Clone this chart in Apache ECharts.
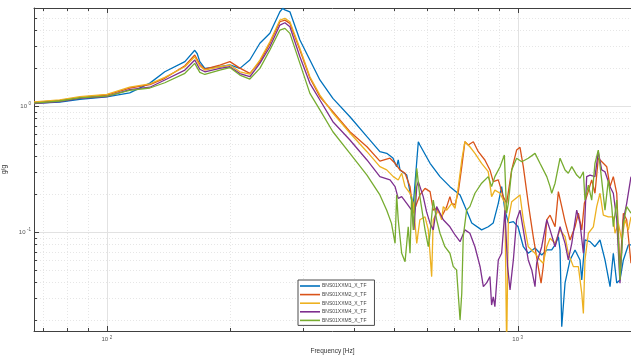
<!DOCTYPE html>
<html>
<head>
<meta charset="utf-8">
<title>Transfer functions</title>
<script src="https://cdn.jsdelivr.net/npm/echarts@6/dist/echarts.min.js"></script>
<style>
  html, body { margin: 0; padding: 0; background: #fff; }
  #chart { width: 631px; height: 356px; }
</style>
</head>
<body>
<div id="chart"></div>
<script>
var seriesNames = ['BNS01XXM1_X_TF', 'BNS01XXM2_X_TF', 'BNS01XXM3_X_TF', 'BNS01XXM4_X_TF', 'BNS01XXM5_X_TF'];
var seriesColors = ['#0072BD', '#D95319', '#EDB120', '#7E2F8E', '#77AC30'];

// [frequency Hz, g/g]
var m1 = [[66.5,1.05],[76.8,1.076],[86,1.13],[100,1.18],[113.7,1.27],[127.3,1.52],[138.4,1.87],[154.9,2.25],[163.7,2.77],[166,2.6],[168.4,2.25],[173.2,1.99],[188.4,2.05],[199.3,2.12],[210.8,1.99],[222.9,2.32],[235.8,3.15],[249.4,3.78],[263.8,5.6],[268,5.96],[271.3,5.8],[274,5.96],[279,5.6],[295.1,3.34],[312.1,2.32],[330.1,1.61],[355,1.15],[390.6,0.822],[429.7,0.571],[462,0.434],[480,0.421],[497,0.387],[507.5,0.33],[512,0.373],[517,0.311],[537,0.283],[552,0.179],[557,0.163],[573,0.521],[578,0.49],[612,0.351],[647,0.275],[684,0.229],[724,0.197],[744,0.159],[773,0.118],[817,0.104],[848,0.11],[856,0.107],[872,0.118],[897,0.169],[914,0.229],[931,0.149],[949,0.118],[976,0.121],[1002,0.11],[1032,0.0764],[1061,0.0678],[1102,0.0746],[1144,0.0657],[1177,0.072],[1210,0.072],[1233,0.0789],[1256,0.0918],[1268,0.072],[1280,0.0177],[1304,0.0394],[1341,0.06],[1379,0.072],[1418,0.06],[1432,0.0416],[1458,0.0864],[1500,0.0838],[1542,0.0764],[1586,0.0864],[1631,0.06],[1678,0.0368],[1709,0.0678],[1742,0.0394],[1774,0.0416],[1808,0.06],[1859,0.0789],[1887,0.0789]];
var m2 = [[66.5,1.07],[76.8,1.11],[86,1.17],[100,1.223],[113.7,1.39],[127.3,1.48],[138.4,1.66],[154.9,2.09],[163.7,2.54],[168.4,2.14],[173.2,1.96],[188.4,2.115],[199.3,2.25],[210.8,2.0],[222.9,1.818],[235.8,2.247],[249.4,3.145],[263.8,4.667],[271.3,4.81],[279,4.53],[295.1,2.78],[312.1,1.668],[330.1,1.185],[355,0.901],[390.6,0.625],[429.7,0.475],[462,0.365],[489,0.385],[503,0.351],[517,0.311],[532,0.293],[547,0.229],[557,0.141],[568,0.169],[578,0.197],[595,0.222],[612,0.209],[623,0.149],[635,0.154],[653,0.132],[672,0.159],[684,0.191],[691,0.169],[704,0.164],[717,0.209],[731,0.33],[744,0.521],[758,0.49],[780,0.521],[802,0.434],[832,0.373],[856,0.311],[872,0.251],[897,0.259],[922,0.191],[940,0.169],[967,0.311],[994,0.447],[1013,0.47],[1032,0.33],[1061,0.169],[1091,0.0918],[1122,0.0531],[1140,0.0392],[1154,0.0531],[1177,0.125],[1199,0.136],[1233,0.11],[1256,0.209],[1280,0.159],[1304,0.121],[1341,0.0864],[1379,0.11],[1405,0.141],[1432,0.104],[1453,0.169],[1472,0.191],[1514,0.259],[1542,0.203],[1571,0.385],[1616,0.351],[1647,0.33],[1678,0.229],[1709,0.275],[1742,0.203],[1774,0.05],[1808,0.141],[1842,0.125],[1887,0.0565]];
var m3 = [[66.5,1.08],[76.8,1.12],[86,1.185],[100,1.238],[113.7,1.41],[127.3,1.5],[138.4,1.69],[154.9,2.05],[163.7,2.46],[168.4,2.08],[173.2,1.93],[188.4,2.05],[199.3,2.115],[210.8,1.87],[222.9,1.795],[235.8,2.318],[249.4,3.24],[263.8,4.814],[271.3,4.97],[279,4.67],[295.1,2.87],[312.1,1.708],[330.1,1.223],[355,0.88],[390.6,0.611],[429.7,0.434],[462,0.33],[480,0.311],[498,0.275],[512,0.259],[522,0.293],[532,0.229],[547,0.203],[557,0.169],[568,0.0813],[578,0.125],[595,0.132],[606,0.104],[617.5,0.0442],[623,0.125],[641,0.149],[653,0.125],[659,0.159],[672,0.149],[691,0.169],[704,0.154],[717,0.229],[731,0.373],[744,0.521],[765,0.475],[787,0.421],[817,0.351],[848,0.301],[864,0.191],[880,0.215],[906,0.203],[931,0.169],[940,0.012],[949,0.125],[967,0.174],[1013,0.197],[1032,0.125],[1061,0.0764],[1102,0.0678],[1133,0.06],[1154,0.0565],[1177,0.0764],[1199,0.0891],[1233,0.0813],[1268,0.104],[1304,0.0918],[1328,0.0678],[1366,0.0531],[1405,0.0531],[1432,0.0326],[1445,0.0226],[1458,0.06],[1486,0.0977],[1528,0.11],[1557,0.159],[1586,0.203],[1616,0.136],[1662,0.132],[1709,0.132],[1725,0.0977],[1758,0.117],[1791,0.0864],[1825,0.125],[1859,0.104],[1887,0.132]];
var m4 = [[66.5,1.047],[76.8,1.085],[86,1.151],[100,1.19],[113.7,1.35],[127.3,1.41],[138.4,1.608],[154.9,1.93],[163.7,2.32],[168.4,1.96],[173.2,1.87],[188.4,1.99],[199.3,2.05],[210.8,1.81],[222.9,1.708],[235.8,2.18],[249.4,2.955],[263.8,4.394],[271.3,4.583],[279,4.26],[295.1,2.46],[312.1,1.514],[330.1,1.116],[355,0.751],[390.6,0.537],[429.7,0.373],[462,0.275],[489,0.259],[503,0.229],[512,0.185],[522,0.191],[537,0.169],[552,0.149],[559,0.104],[568,0.229],[573,0.251],[589,0.191],[600,0.145],[612,0.117],[623,0.104],[635,0.159],[647,0.141],[659,0.125],[684,0.11],[704,0.0947],[724,0.0838],[744,0.104],[765,0.0977],[787,0.0764],[810,0.0531],[825,0.0368],[840,0.0394],[856,0.0442],[864,0.0263],[872,0.0306],[880,0.0255],[897,0.06],[914,0.0678],[931,0.149],[945,0.0531],[958,0.0347],[976,0.06],[994,0.125],[1013,0.149],[1032,0.104],[1061,0.06],[1082,0.05],[1102,0.0368],[1112,0.0565],[1144,0.0764],[1177,0.125],[1199,0.104],[1233,0.0764],[1268,0.11],[1304,0.0813],[1328,0.06],[1354,0.0813],[1392,0.149],[1418,0.117],[1445,0.0678],[1472,0.275],[1500,0.283],[1542,0.275],[1571,0.434],[1601,0.311],[1631,0.301],[1678,0.229],[1709,0.203],[1742,0.125],[1774,0.0392],[1808,0.125],[1842,0.169],[1887,0.275]];
var m5 = [[66.5,1.056],[76.8,1.096],[86,1.16],[100,1.2],[113.7,1.33],[127.3,1.39],[138.4,1.53],[154.9,1.818],[163.7,2.18],[168.4,1.85],[173.2,1.78],[188.4,1.93],[199.3,2.02],[210.8,1.76],[222.9,1.638],[235.8,1.99],[249.4,2.782],[263.8,4.01],[271.3,4.137],[279,3.775],[295.1,2.182],[312.1,1.261],[330.1,0.933],[355,0.625],[390.6,0.421],[429.7,0.283],[462,0.197],[480,0.149],[493,0.117],[503,0.0813],[507.5,0.197],[512,0.125],[522,0.0678],[532,0.0581],[541.5,0.11],[547,0.0678],[552,0.191],[557,0.104],[568,0.32],[578,0.191],[595,0.104],[606,0.0764],[612,0.0977],[623,0.179],[635,0.125],[647,0.0977],[665,0.0764],[684,0.0678],[697,0.0531],[710,0.05],[724,0.02],[731,0.0326],[737,0.0918],[751,0.149],[765,0.159],[787,0.203],[817,0.244],[848,0.275],[864,0.229],[880,0.275],[906,0.33],[928,0.408],[940,0.141],[949,0.169],[967,0.311],[994,0.385],[1023,0.361],[1061,0.385],[1102,0.421],[1133,0.351],[1177,0.275],[1199,0.229],[1210,0.203],[1233,0.244],[1268,0.385],[1304,0.311],[1328,0.293],[1354,0.33],[1392,0.283],[1418,0.267],[1445,0.301],[1458,0.179],[1486,0.236],[1514,0.179],[1542,0.351],[1571,0.447],[1601,0.259],[1631,0.149],[1662,0.259],[1694,0.159],[1709,0.11],[1742,0.179],[1774,0.0416],[1808,0.117],[1842,0.159],[1887,0.141]];
var seriesData = [m1, m2, m3, m4, m5];

var xRange = [66.5, 1887];
var yRange = [0.01637, 6];
var xMajorTicks = [100, 1000];
var xMinorTicks = [70, 80, 90, 200, 300, 400, 500, 600, 700, 800, 900];
var yMajorTicks = [0.1, 1];
var yMinorTicks = [0.02, 0.03, 0.04, 0.05, 0.06, 0.07, 0.08, 0.09, 0.2, 0.3, 0.4, 0.5, 0.6, 0.7, 0.8, 0.9, 2, 3, 4, 5];

var font = 'Liberation Sans, Arial, sans-serif';
var axisColor = '#404040';
var tickStyle = { stroke: axisColor, lineWidth: 1 };
var majorGrid = { stroke: '#e2e2e2', lineWidth: 1 };
var minorGrid = { stroke: '#e6e6e6', lineWidth: 1, lineDash: [1, 2] };

// 10^n 形式的刻度标签
function powLabel (v) {
  var p = Math.log10(v);
  if (Math.abs(p - Math.round(p)) > 1e-6) return '';
  return '{b|10}{s|' + Math.round(p) + '}';
}
var labelRich = {
  b: { fontSize: 6, color: '#555', fontFamily: font, lineHeight: 9 },
  s: { fontSize: 4.5, color: '#555', fontFamily: font, verticalAlign: 'top', padding: [0, 0, 0, 1.5] }
};

function renderXTick (params, api) {
  var cs = params.coordSys;
  var x = Math.round(api.coord([api.value(0), 1])[0]) + 0.5;
  var major = api.value(2) === 1;
  var len = major ? 5 : 3;
  var top = cs.y;
  var bottom = cs.y + cs.height;
  return {
    type: 'group',
    children: [
      { type: 'line', shape: { x1: x, y1: top, x2: x, y2: bottom }, style: major ? majorGrid : minorGrid },
      { type: 'line', shape: { x1: x, y1: bottom, x2: x, y2: bottom - len }, style: tickStyle },
      { type: 'line', shape: { x1: x, y1: top, x2: x, y2: top + len }, style: tickStyle }
    ]
  };
}

function renderYTick (params, api) {
  var cs = params.coordSys;
  var y = Math.round(api.coord([100, api.value(1)])[1]) + 0.5;
  var major = api.value(2) === 1;
  var len = major ? 5 : 3;
  return {
    type: 'group',
    children: [
      { type: 'line', shape: { x1: cs.x, y1: y, x2: cs.x + cs.width, y2: y }, style: major ? majorGrid : minorGrid },
      { type: 'line', shape: { x1: cs.x, y1: y, x2: cs.x + len, y2: y }, style: tickStyle }
    ]
  };
}

var xTickData = xMajorTicks.map(function (v) { return [v, 1, 1] })
  .concat(xMinorTicks.map(function (v) { return [v, 1, 0] }));
var yTickData = yMajorTicks.map(function (v) { return [100, v, 1] })
  .concat(yMinorTicks.map(function (v) { return [100, v, 0] }));

var series = [
  { type: 'custom', renderItem: renderXTick, data: xTickData, z: 1, silent: true, encode: { x: 0, y: 1 } },
  { type: 'custom', renderItem: renderYTick, data: yTickData, z: 1, silent: true, encode: { x: 0, y: 1 } }
];
seriesNames.forEach(function (name, i) {
  series.push({
    name: name,
    type: 'line',
    data: seriesData[i],
    symbol: 'none',
    showSymbol: false,
    clip: true,
    z: 3,
    lineStyle: { color: seriesColors[i], width: 1.3 },
    itemStyle: { color: seriesColors[i] }
  });
});

var chart = echarts.init(document.getElementById('chart'));
chart.setOption({
  animation: false,
  backgroundColor: '#fff',
  grid: { left: 34, top: 8, right: 0, bottom: 25, containLabel: false, outerBoundsMode: 'none' },
  legend: {
    data: seriesNames,
    orient: 'vertical',
    left: 298,
    top: 280,
    padding: [3, 8, 2, 2],
    itemGap: 2.6,
    icon: 'rect',
    itemWidth: 20,
    itemHeight: 1.6,
    backgroundColor: '#fff',
    borderColor: '#4d4d4d',
    borderWidth: 1,
    textStyle: { fontSize: 5, color: '#444', fontFamily: font, lineHeight: 6, padding: [0, 0, 0, -3] }
  },
  xAxis: [
    {
      type: 'log',
      min: xRange[0],
      max: xRange[1],
      position: 'bottom',
      name: 'Frequency [Hz]',
      nameLocation: 'middle',
      nameGap: 14,
      nameTextStyle: { fontSize: 6.5, color: '#333', fontFamily: font },
      axisLine: { show: true, lineStyle: { color: axisColor, width: 1 } },
      axisTick: { show: false },
      splitLine: { show: false },
      axisLabel: { formatter: powLabel, rich: labelRich, margin: 4, showMinLabel: false, showMaxLabel: false }
    },
    {
      type: 'log',
      min: xRange[0],
      max: xRange[1],
      position: 'top',
      axisLine: { show: true, lineStyle: { color: axisColor, width: 1 } },
      axisTick: { show: false },
      axisLabel: { show: false },
      splitLine: { show: false }
    }
  ],
  yAxis: {
    type: 'log',
    min: yRange[0],
    max: yRange[1],
    name: 'g/g',
    nameLocation: 'middle',
    nameGap: 18,
    nameTextStyle: { fontSize: 6.5, color: '#333', fontFamily: font },
    axisLine: { show: true, lineStyle: { color: axisColor, width: 1 } },
    axisTick: { show: false },
    splitLine: { show: false },
    axisLabel: { formatter: powLabel, rich: labelRich, margin: 3, showMinLabel: false, showMaxLabel: false }
  },
  series: series
});
</script>
</body>
</html>
